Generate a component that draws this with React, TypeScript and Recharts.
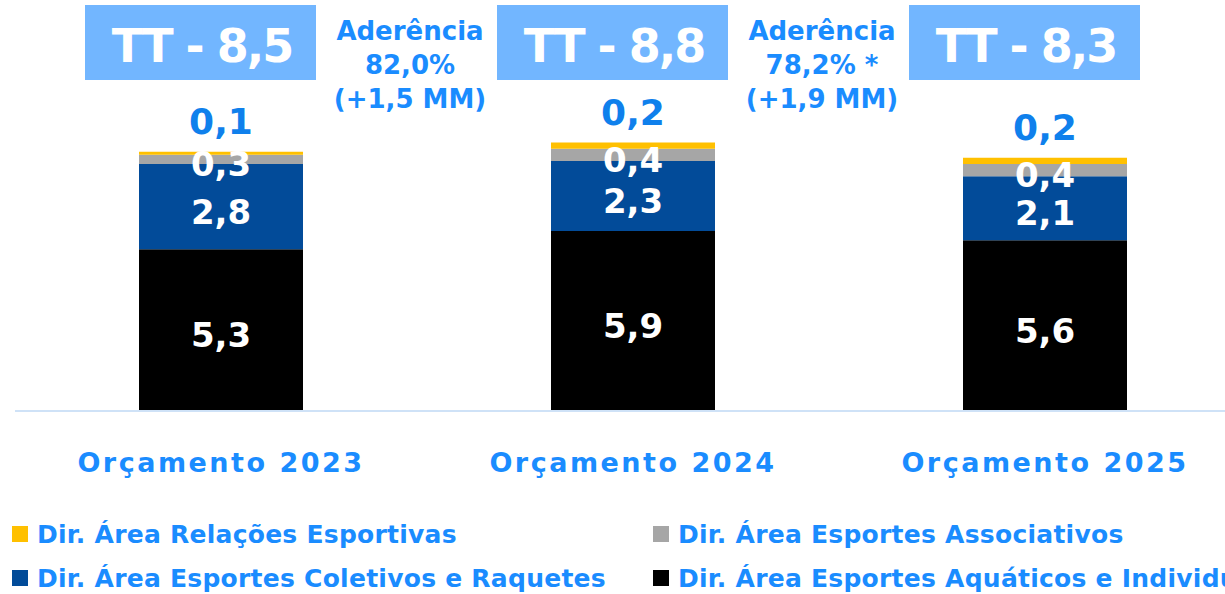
import { BarChart, Bar, XAxis, YAxis, LabelList, Legend } from 'recharts'

const categories = ['Orçamento 2023', 'Orçamento 2024', 'Orçamento 2025']
const aquaticos = [5.3, 5.9, 5.6]
const coletivos = [2.8, 2.3, 2.1]
const associativos = [0.3, 0.4, 0.4]
const relacoes = [0.1, 0.2, 0.2]
const aderencia = ['82,0%', '78,2% *']
const aderenciaDelta = ['(+1,5 MM)', '(+1,9 MM)']
const legendOrder = [
  'Dir. Área Relações Esportivas',
  'Dir. Área Esportes Associativos',
  'Dir. Área Esportes Coletivos e Raquetes',
  'Dir. Área Esportes Aquáticos e Individuais',
]

const FONT = '"DejaVu Sans", Verdana, sans-serif'
const TEXT_BLUE = '#1a8cff'
const LABEL_BLUE = '#0f80ec'

const fmt = (v: number) => v.toFixed(1).replace('.', ',')

const data = categories.map((name, i) => ({
  name,
  aquaticos: aquaticos[i],
  coletivos: coletivos[i],
  associativos: associativos[i],
  relacoes: relacoes[i],
  total: aquaticos[i] + coletivos[i] + associativos[i] + relacoes[i],
}))

const whiteLabel = (props: any) => {
  const { x, y, width, height, value } = props
  return (
    <text
      x={x + width / 2}
      y={y + height / 2 + 5}
      textAnchor="middle"
      dominantBaseline="central"
      fill="#fff"
      fontFamily={FONT}
      fontWeight={700}
      fontSize={34}
    >
      {fmt(value)}
    </text>
  )
}

const topAnnotation = (props: any) => {
  const { x, y, width, value, index } = props
  const cx = x + width / 2
  return (
    <g>
      <text
        x={cx}
        y={y - 18}
        textAnchor="middle"
        fill={LABEL_BLUE}
        fontFamily={FONT}
        fontWeight={700}
        fontSize={36}
      >
        {fmt(value)}
      </text>
      <rect x={cx - 136} y={5} width={231} height={75} fill="#72b6ff" />
      <text
        x={cx - 19}
        y={46}
        textAnchor="middle"
        dominantBaseline="central"
        fill="#fff"
        fontFamily={FONT}
        fontWeight={700}
        fontSize={46}
        letterSpacing={-2}
      >
        {`TT - ${fmt(data[index].total)}`}
      </text>
      {index < aderencia.length && (
        <text
          x={cx + 189}
          textAnchor="middle"
          fill={TEXT_BLUE}
          fontFamily={FONT}
          fontWeight={700}
          fontSize={26}
        >
          <tspan x={cx + 189} y={40}>Aderência</tspan>
          <tspan x={cx + 189} y={74}>{aderencia[index]}</tspan>
          <tspan x={cx + 189} y={108}>{aderenciaDelta[index]}</tspan>
        </text>
      )}
    </g>
  )
}

const renderLegend = (props: any) => {
  const items = [...(props.payload ?? [])].sort(
    (a: any, b: any) => legendOrder.indexOf(a.value) - legendOrder.indexOf(b.value),
  )
  return (
    <div
      style={{
        display: 'grid',
        gridTemplateColumns: '641px 620px',
        gridAutoRows: '44px',
        paddingLeft: 12,
        fontFamily: FONT,
        fontWeight: 700,
        fontSize: 25,
        letterSpacing: 0.25,
        color: TEXT_BLUE,
      }}
    >
      {items.map((it: any) => (
        <div key={it.value} style={{ display: 'flex', alignItems: 'center', whiteSpace: 'nowrap' }}>
          <span style={{ width: 16, height: 16, background: it.color, marginRight: 9, flex: 'none' }} />
          {it.value}
        </div>
      ))}
    </div>
  )
}

export default function App() {
  return (
    <div style={{ position: 'absolute', left: 0, top: 0, width: 1225, height: 594, overflow: 'hidden', background: '#fff' }}>
      <BarChart width={1260} height={594} data={data} margin={{ top: 45, right: 9, bottom: 153, left: 15 }}>
        <XAxis
          dataKey="name"
          height={30}
          axisLine={{ stroke: '#cfe2f7', strokeWidth: 2 }}
          tickLine={false}
          tickMargin={36}
          tick={{ fill: TEXT_BLUE, fontSize: 27, fontWeight: 700, fontFamily: FONT, letterSpacing: 2.5 }}
        />
        <YAxis hide domain={[0, 12]} />
        <Legend
          verticalAlign="middle"
          align="center"
          layout="horizontal"
          content={renderLegend}
          wrapperStyle={{ left: 0, top: 512, width: 1260 }}
        />
        <Bar dataKey="aquaticos" name="Dir. Área Esportes Aquáticos e Individuais" stackId="a" fill="#000000" barSize={164} isAnimationActive={false}>
          <LabelList dataKey="aquaticos" content={whiteLabel} />
        </Bar>
        <Bar dataKey="coletivos" name="Dir. Área Esportes Coletivos e Raquetes" stackId="a" fill="#024b99" barSize={164} isAnimationActive={false}>
          <LabelList dataKey="coletivos" content={whiteLabel} />
        </Bar>
        <Bar dataKey="associativos" name="Dir. Área Esportes Associativos" stackId="a" fill="#a6a6a6" barSize={164} isAnimationActive={false}>
          <LabelList dataKey="associativos" content={whiteLabel} />
        </Bar>
        <Bar dataKey="relacoes" name="Dir. Área Relações Esportivas" stackId="a" fill="#ffc000" barSize={164} isAnimationActive={false}>
          <LabelList dataKey="relacoes" content={topAnnotation} />
        </Bar>
      </BarChart>
    </div>
  )
}
